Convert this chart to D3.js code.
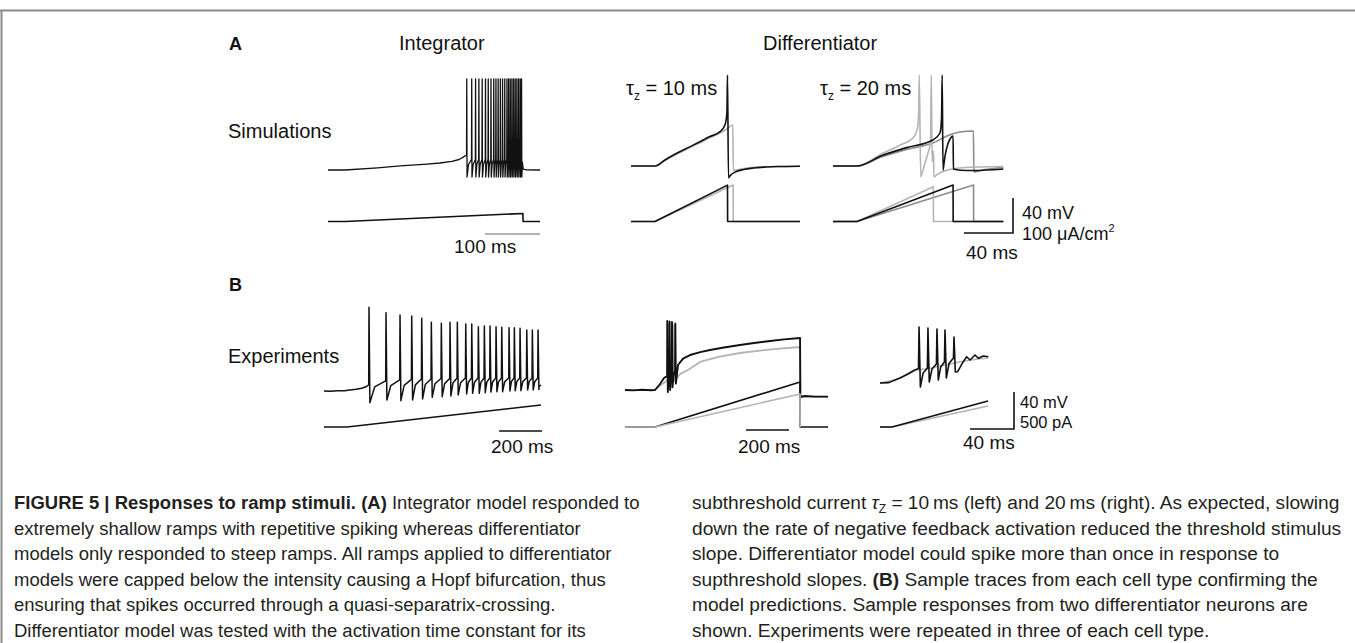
<!DOCTYPE html>
<html>
<head>
<meta charset="utf-8">
<script src="https://cdn.jsdelivr.net/npm/d3@7"></script>
<style>
  html, body { margin: 0; padding: 0; background: #fff; }
  svg { display: block; }
  text { font-family: "Liberation Sans", Arial, Helvetica, sans-serif; fill: #111; }
</style>
</head>
<body>
<svg id="fig" width="1355" height="643"></svg>
<script>
// ---------------------------------------------------------------
// Traces: time in ms, membrane potential in mV, current in uA/cm2 (A) or pA (B)
// ---------------------------------------------------------------

// A, integrator model
const intSimPre = [[0,-65],[31,-65],[90,-62.5],[131,-60.4],[180,-58.2],[203,-57],[225,-55.2],[238,-53],[245,-50.6],[250,-48.5]];
const intSimSpikeT = [252,261,268,274,280,286,291,296,301,305,309,313,317,321,325,328,331,334,337,340,343,346,349,351.5];
const intSimPeak   = [39,39,39,39,39,39,39,39,39,39,39,39,39,39,39,39,39,39,39,39,39,39,39,39];
const intSimTrough = [-73,-73,-73,-73,-73,-73,-73,-73,-73,-73,-73,-73,-73,-73,-73,-73,-73,-73,-73,-73,-73,-73,-73,-73];
const intSimThresh = [-48,-53,-53,-53,-53,-53,-53,-53,-53,-53,-53,-53,-53,-53,-53,-53,-53,-53,-53,-53,-53,-53,-53,-53];
const intSimPost = [[353,-56],[354.5,-64],[360,-64.8],[385,-65]];
const intSimCurrent = [[0,0],[31,0],[354,23],[354.2,0],[385,0]];

// A, differentiator model, tau_z = 10 ms
const d10Black = [[0,-65],[19.6,-65],[28,-57.8],[37.3,-50.5],[47,-43.7],[56.3,-37.2],[64,-31.6],[72.6,-25.8],[76.7,-18.1],[78.3,-5],[78.8,39],[79.6,-78.7],[81,-76],[85,-72],[92,-69],[100,-67.3],[110,-66.2],[119,-65.6],[138,-65.2]];
const d10Gray  = [[0,-65],[19.6,-65],[28,-58.5],[37.3,-51.5],[47,-44.8],[56.3,-38.5],[64,-33],[72.6,-27.5],[78,-23],[83.1,-18.1],[83.6,-70],[86,-69.5],[92,-67.8],[100,-66.4],[138,-65.2]];
const d10CurBlack = [[0,0],[19.6,0],[78.8,104],[78.9,0],[138,0]];
const d10CurGray  = [[0,0],[19.6,0],[83.4,104],[83.5,0],[138,0]];

// A, differentiator model, tau_z = 20 ms (steep, threshold and shallow ramps)
const d20Steep = [[0,-65],[19.6,-65],[40,-51],[55,-41],[65.3,-33],[68.6,-24],[69.9,-5],[70.4,39],[71.6,-77.6],[73,-72],[75,-62],[78,-48],[79.6,-38],[80.2,39],[80.9,-60],[81.7,-50],[82.0,-48],[82.4,-77.6],[84,-76],[87,-73],[95,-69],[105,-67],[139,-65.6]];
const d20Mid   = [[0,-65],[19.6,-65],[40,-53],[60,-44],[81.6,-35.3],[87.3,-27.3],[88.6,-10],[89.1,39],[89.8,-69.6],[90.6,-62],[91.6,-52.4],[93.5,-41],[96,-33],[98.0,-30.7],[98.3,-68.4],[104,-69.8],[115,-70.1],[139,-68.4]];
const d20Shallow = [[0,-65],[19.6,-65],[40,-54.5],[60,-46],[81.6,-38.7],[95,-29.5],[103.7,-26.1],[114.6,-25],[115.0,-71.9],[118,-71],[124,-69],[132,-67.5],[139,-66.8]];
const d20CurSteep   = [[0,0],[19.6,0],[81.9,99],[82.0,0],[139,0]];
const d20CurMid     = [[0,0],[19.6,0],[98.0,104],[98.1,0],[139,0]];
const d20CurShallow = [[0,0],[19.6,0],[114.7,104],[114.8,0],[139,0]];

// B, integrator neuron
const intExpPre = [[0,-65],[30,-65.3],[60,-64.6],[95,-64.8],[120,-64],[150,-63.2],[175,-62],[195,-60.5],[207,-58.5]];
const intExpSpikeT = [209.3,288.4,353.5,407.9,454.4,499.1,545.6,586,620,659.1,687,717.7,745.6,772.1,800,826.5,860.5,885.1,911.6,942.8,968.8,995.3];
const intExpPeak   = [25.5,19.6,17.2,16.1,13.6,9.3,8.2,9.3,9.3,7.4,7.4,4.5,5.3,5.3,4.5,3.9,3.4,3.4,2.8,1.0,1.0,1.0];
const intExpTrough = [-77.6,-74.7,-75.5,-74.7,-73.6,-71.8,-71.2,-70.4,-69.3,-68.2,-67.5,-67.5,-66.8,-66.1,-65.7,-65.7,-65,-64.7,-64.7,-63.9,-63.9,-63.3];
const intExpThresh = [-58.5,-54,-53,-52.5,-52,-52,-51.5,-51.5,-51,-51,-51,-51,-51,-51,-51,-51,-51,-51,-51,-51,-51,-51];
const intExpPost = [[1000,-60],[1009,-58.5]];
const intExpCurrent = [[0,0],[107,0],[1009,297]];

// B, differentiator neuron 1 (two ramp slopes)
const difExp1BlackPre = [[0,-65],[40,-65.4],[80,-64.7],[120,-65.2],[139.5,-65],[162.8,-58.5],[181.4,-52],[195.5,-50]];
const difExp1SpikeT = [196.7,207.4,218.6,234];
const difExp1Peak   = [9.6,9,8.5,7];
const difExp1Trough = [-67.2,-65,-62,-58];
const difExp1Thresh = [-50,-48,-46,-44];
const difExp1BlackPost = [[246.5,-38],[270,-31],[302.3,-27.2],[350,-24],[395.3,-21.8],[460,-19],[534.9,-16.4],[600,-14.2],[674.4,-12],[740,-10.3],[814,-8.8],[815.5,-72.6],[837,-71.5],[880,-72.2],[944,-72.2]];
const difExp1Gray = [[0,-65],[139.5,-65],[165,-60],[195,-55],[200,-53],[202.3,6],[204,-62],[215,-53],[227,-48],[228,5],[230,-55],[260,-47],[293,-43.4],[349,-34.7],[440,-29],[535,-25],[680,-21],[814,-18.5],[815.5,-72],[944,-72.4]];
const difExp1CurBlack = [[0,0],[139.5,0],[814,608],[814.5,0],[944,0]];
const difExp1CurGray  = [[0,0],[139.5,0],[814,446],[814.5,0]];

// B, differentiator neuron 2 (two ramp slopes)
const difExp2BlackPre = [[0,-65],[8,-64.6],[18.2,-59.6],[26,-55],[31.8,-50.9],[34.6,-49.5]];
const difExp2SpikeT = [35.5,43.6,51.8,59.1,67.3];
const difExp2Peak   = [-4.5,-5.5,-6.6,-7.7,-15.3];
const difExp2Trough = [-69.3,-63.9,-61.8,-59.6,-53.1];
const difExp2Thresh = [-49.5,-48.8,-44.5,-42.3,-38];
const difExp2BlackPost = [[70.6,-52.8],[75.7,-42],[78.8,-36.6],[81.8,-40.1],[86.4,-34.7],[89.4,-38.3],[93.9,-35.8],[98.5,-36.6]];
const difExp2Gray = [[0,-65],[18.2,-59.6],[31.8,-50.9],[40.9,-49.9],[59.1,-45.5],[77.3,-41.2],[98.2,-38]];
const difExp2CurBlack = [[0,0],[10.9,0],[98.2,351]];
const difExp2CurGray  = [[0,0],[10.9,0],[98.2,284]];

// Caption text, one entry per printed line; segments are [text, style]
const captionLeft = [
  [["FIGURE 5 | Responses to ramp stimuli. (A)", "b"], [" Integrator model responded to", ""]],
  [["extremely shallow ramps with repetitive spiking whereas differentiator", ""]],
  [["models only responded to steep ramps. All ramps applied to differentiator", ""]],
  [["models were capped below the intensity causing a Hopf bifurcation, thus", ""]],
  [["ensuring that spikes occurred through a quasi-separatrix-crossing.", ""]],
  [["Differentiator model was tested with the activation time constant for its", ""]]
];
const captionRight = [
  [["subthreshold current ", ""], ["\u03C4", "i"], ["Z", "sub"], [" = 10\u2009ms (left) and 20\u2009ms (right). As expected, slowing", "up"]],
  [["down the rate of negative feedback activation reduced the threshold stimulus", ""]],
  [["slope. Differentiator model could spike more than once in response to", ""]],
  [["supthreshold slopes. ", ""], ["(B)", "b"], [" Sample traces from each cell type confirming the", ""]],
  [["model predictions. Sample responses from two differentiator neurons are", ""]],
  [["shown. Experiments were repeated in three of each cell type.", ""]]
];

// ---------------------------------------------------------------
const svg = d3.select("#fig");
const BLACK = "#111", LIGHT = "#b4b4b4", MID = "#8c8c8c";

// frame rule
svg.append("line").attr("x1", 0).attr("x2", 1355).attr("y1", 10.5).attr("y2", 10.5)
  .attr("stroke", "#8a8a8a").attr("stroke-width", 2);
svg.append("line").attr("x1", 1.5).attr("x2", 1.5).attr("y1", 10).attr("y2", 643)
  .attr("stroke", "#8a8a8a").attr("stroke-width", 2);

// scales
const xA1 = d3.scaleLinear().domain([0, 385]).range([328, 540]);
const yA1 = d3.scaleLinear().domain([-65, -25]).range([170, 135]);
const iA  = d3.scaleLinear().domain([0, 100]).range([221.5, 186.5]);
const xA2 = d3.scaleLinear().domain([0, 138]).range([631, 800]);
const xA3 = d3.scaleLinear().domain([0, 139]).range([833, 1003.3]);
const yA2 = d3.scaleLinear().domain([-65, -25]).range([166, 131]);
const xB1 = d3.scaleLinear().domain([0, 1009]).range([324, 541]);
const yB1 = d3.scaleLinear().domain([-65, -25]).range([391, 354]);
const xB2 = d3.scaleLinear().domain([0, 944]).range([625, 828]);
const yB2 = d3.scaleLinear().domain([-65, -25]).range([390, 353]);
const xB3 = d3.scaleLinear().domain([0, 98.2]).range([880, 988]);
const yB3 = d3.scaleLinear().domain([-65, -25]).range([383, 346]);
const iB  = d3.scaleLinear().domain([0, 500]).range([427, 390]);

// assemble a spiking trace from its subthreshold pieces and spike list
function spikingTrace(pre, times, peaks, troughs, thresh, post, rise, fall, recov) {
  const pts = pre.slice();
  times.forEach((ts, i) => {
    pts.push([ts - rise, thresh[i]]);
    pts.push([ts, peaks[i]]);
    pts.push([ts + fall, troughs[i]]);
    if (i + 1 < times.length) {
      const isi = times[i + 1] - ts;
      pts.push([ts + fall + recov * isi, troughs[i] + 0.72 * (thresh[i + 1] - troughs[i])]);
    }
  });
  return pts.concat(post);
}

function draw(data, x, y, color, width, curve) {
  const line = d3.line().x(d => x(d[0])).y(d => y(d[1])).curve(curve || d3.curveLinear);
  svg.append("path").datum(data).attr("d", line)
    .attr("fill", "none").attr("stroke", color).attr("stroke-width", width)
    .attr("stroke-linejoin", "round").attr("stroke-linecap", "butt");
}

// ---- A: integrator ----
draw(spikingTrace(intSimPre, intSimSpikeT, intSimPeak, intSimTrough, intSimThresh, intSimPost, 0.4, 0.5, 0.3),
     xA1, yA1, BLACK, 1.3);
draw(intSimCurrent, xA1, iA, BLACK, 1.6);
svg.append("line").attr("x1", xA1(285)).attr("x2", xA1(385)).attr("y1", 234).attr("y2", 234)
  .attr("stroke", "#9a9a9a").attr("stroke-width", 1.6);

// ---- A: differentiator tau_z = 10 ms ----
draw(d10Gray, xA2, yA2, LIGHT, 1.6, d3.curveMonotoneX);
draw(d10Black, xA2, yA2, BLACK, 1.6, d3.curveMonotoneX);
draw(d10CurGray, xA2, iA, LIGHT, 1.6);
draw(d10CurBlack, xA2, iA, BLACK, 1.6);

// ---- A: differentiator tau_z = 20 ms ----
draw(d20Shallow, xA3, yA2, MID, 1.6, d3.curveMonotoneX);
draw(d20Steep, xA3, yA2, LIGHT, 1.6, d3.curveMonotoneX);
draw(d20Mid, xA3, yA2, BLACK, 1.6, d3.curveMonotoneX);
draw(d20CurShallow, xA3, iA, MID, 1.6);
draw(d20CurSteep, xA3, iA, LIGHT, 1.6);
draw(d20CurMid, xA3, iA, BLACK, 1.6);

// A scale bars: 40 ms, 40 mV
{
  const x1 = 1013, yb = 233;
  const len = xA3(40) - xA3(0), hgt = yA2(-65) - yA2(-25);
  svg.append("path").attr("d", `M${x1 - len},${yb}H${x1}V${yb - hgt}`)
    .attr("fill", "none").attr("stroke", BLACK).attr("stroke-width", 1.6);
}

// ---- B: integrator neuron ----
draw(spikingTrace(intExpPre, intExpSpikeT, intExpPeak, intExpTrough, intExpThresh, intExpPost, 1.5, 4, 0.28),
     xB1, yB1, BLACK, 1.5);
draw(intExpCurrent, xB1, iB, BLACK, 1.6);
svg.append("line").attr("x1", xB1(814)).attr("x2", xB1(1014)).attr("y1", 431).attr("y2", 431)
  .attr("stroke", BLACK).attr("stroke-width", 1.6);

// ---- B: differentiator neuron 1 ----
draw(difExp1Gray, xB2, yB2, LIGHT, 1.8);
draw(spikingTrace(difExp1BlackPre, difExp1SpikeT, difExp1Peak, difExp1Trough, difExp1Thresh, difExp1BlackPost, 1, 2.5, 0.3),
     xB2, yB2, BLACK, 1.9);
draw(difExp1CurBlack, xB2, iB, BLACK, 1.6);
draw(difExp1CurGray, xB2, iB, LIGHT, 1.6);
svg.append("line").attr("x1", xB2(562.8)).attr("x2", xB2(762.8)).attr("y1", 430).attr("y2", 430)
  .attr("stroke", BLACK).attr("stroke-width", 1.6);

// ---- B: differentiator neuron 2 ----
draw(difExp2Gray, xB3, yB3, LIGHT, 1.6, d3.curveMonotoneX);
draw(spikingTrace(difExp2BlackPre, difExp2SpikeT, difExp2Peak, difExp2Trough, difExp2Thresh, difExp2BlackPost, 0.5, 1.2, 0.3),
     xB3, yB3, BLACK, 1.6);
draw(difExp2CurGray, xB3, iB, LIGHT, 1.6);
draw(difExp2CurBlack, xB3, iB, BLACK, 1.6);
{
  const x1 = 1014, yb = 429;
  const len = xB3(40) - xB3(0), hgt = yB3(-65) - yB3(-25);
  svg.append("path").attr("d", `M${x1 - len},${yb}H${x1}V${yb - hgt}`)
    .attr("fill", "none").attr("stroke", BLACK).attr("stroke-width", 1.6);
}

// ---- labels ----
function label(x, y, txt, size, weight) {
  return svg.append("text").attr("x", x).attr("y", y).attr("font-size", size)
    .attr("font-weight", weight || "normal").text(txt);
}
label(229, 50, "A", 18, "bold");
label(229, 291, "B", 18, "bold");
label(399, 50, "Integrator", 20);
label(763, 50, "Differentiator", 20);
label(228, 138, "Simulations", 20);
label(228, 363, "Experiments", 20);

function tauLabel(x, y, val) {
  const t = svg.append("text").attr("x", x).attr("y", y).attr("font-size", 20);
  t.append("tspan").text("\u03C4");
  t.append("tspan").attr("font-size", 12).attr("dy", 5).text("z");
  t.append("tspan").attr("dy", -5).text(" = " + val + " ms");
}
tauLabel(626, 95, 10);
tauLabel(820, 95, 20);

label(454, 253, "100 ms", 19);
label(1022, 219, "40 mV", 18);
{
  const t = svg.append("text").attr("x", 1022).attr("y", 240).attr("font-size", 18);
  t.append("tspan").text("100 \u03BCA/cm");
  t.append("tspan").attr("font-size", 11).attr("dy", -8).text("2");
}
label(966, 259, "40 ms", 19);
label(491, 453, "200 ms", 19);
label(738, 453, "200 ms", 19);
label(1020, 408, "40 mV", 16.5);
label(1020, 428, "500 pA", 16.5);
label(963, 449, "40 ms", 19);

// ---- caption ----
function caption(lines, x0, y0, targetWidth) {
  const g = svg.append("g");
  const texts = lines.map((segs, k) => {
    const t = g.append("text").attr("x", 0).attr("y", y0 + k * 25.6)
      .attr("font-size", 19).style("fill", "#231f20");
    segs.forEach(([s, style]) => {
      const ts = t.append("tspan").text(s);
      if (style === "b") ts.attr("font-weight", "bold");
      if (style === "i") ts.attr("font-style", "italic");
      if (style === "sub") ts.attr("font-size", 12).attr("dy", 4);
      if (style === "up") ts.attr("dy", -4);
    });
    return t;
  });
  const w = texts[0].node().getComputedTextLength();
  g.attr("transform", `translate(${x0},0) scale(${targetWidth / w},1)`);
}
caption(captionLeft, 14, 509, 626);
caption(captionRight, 692, 509, 648);
</script>
</body>
</html>
